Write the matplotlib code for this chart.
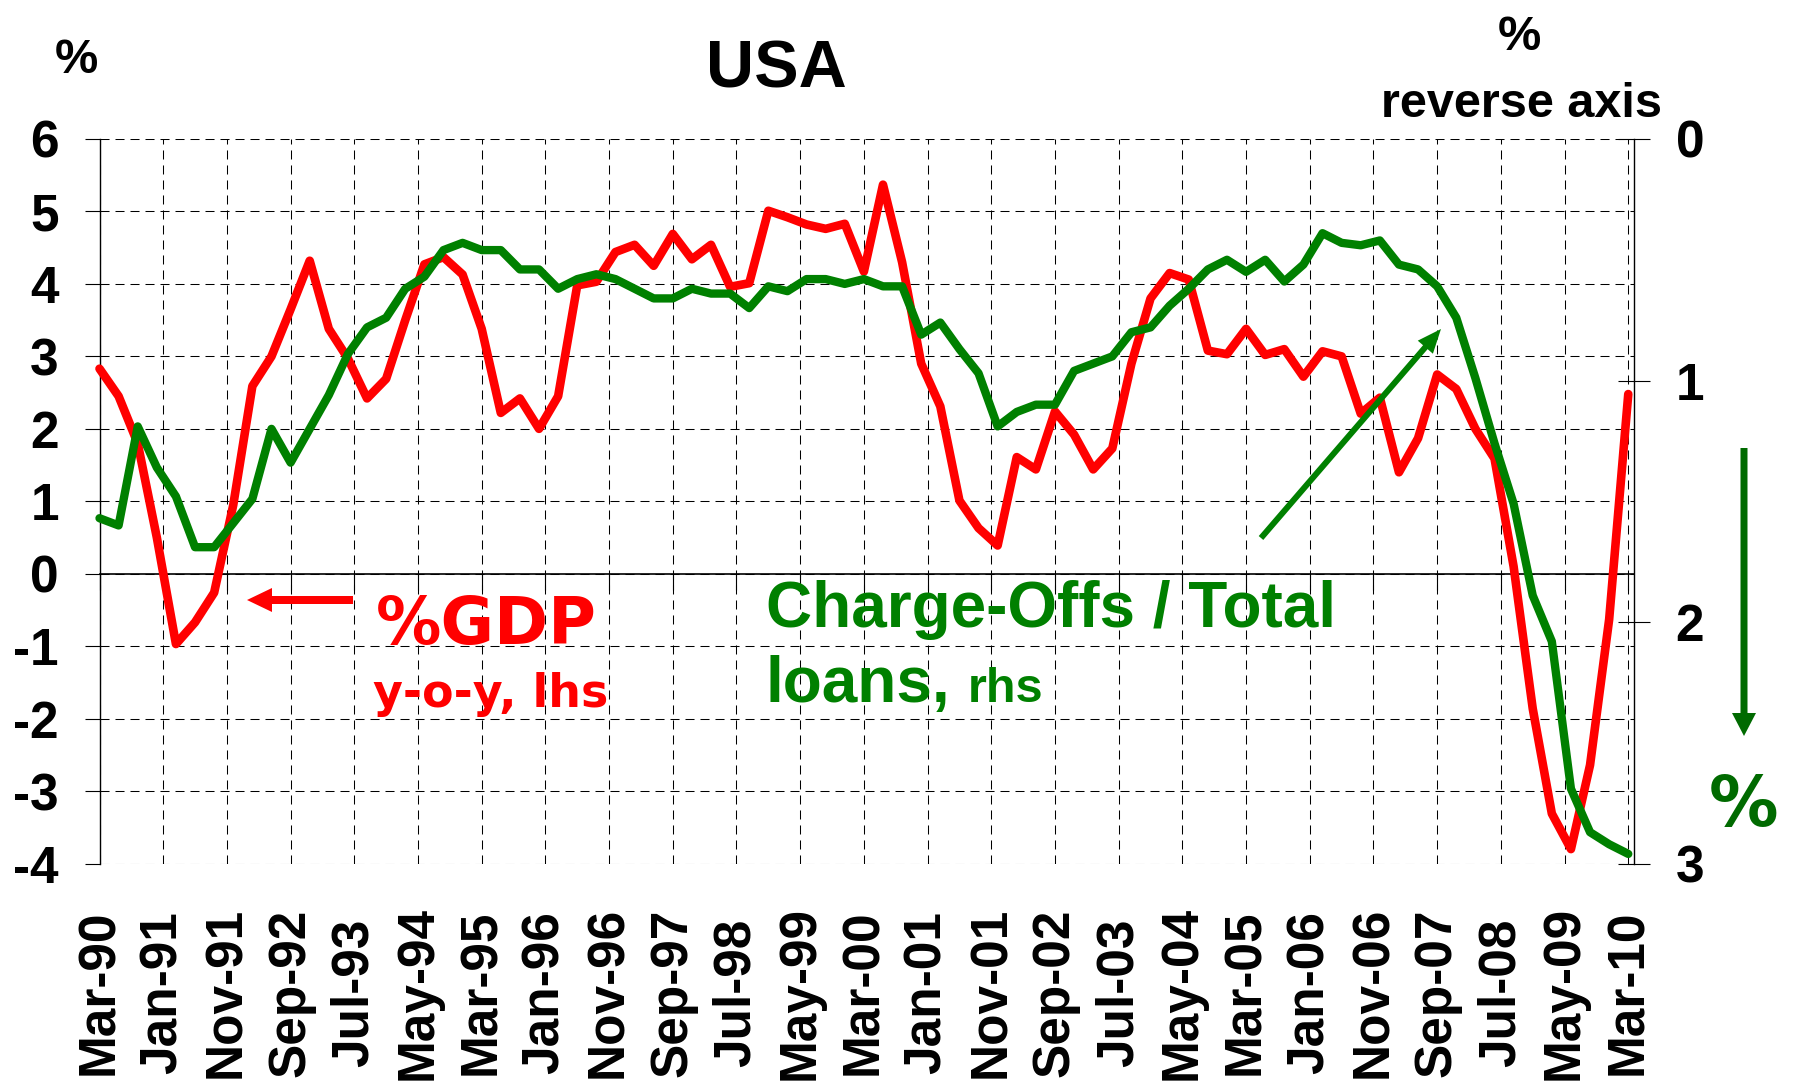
import matplotlib
matplotlib.use("Agg")
import matplotlib.pyplot as plt
import pandas as pd
from matplotlib.patches import FancyArrow
from matplotlib.transforms import IdentityTransform

W, H, DPI = 1795, 1085, 100

RED = "#FF0000"
GREEN = "#008000"
DARK_GREEN = "#006A00"

# quarterly observations, Mar-90 .. Mar-10
quarters = pd.date_range("1990-03-31", "2010-03-31", freq="QE")

# real GDP, % y-o-y (left axis)
gdp_yoy = [
    2.83, 2.45, 1.80, 0.50, -0.97, -0.67, -0.26, 0.95, 2.59, 3.00,
    3.65, 4.32, 3.38, 2.97, 2.42, 2.69, 3.50, 4.27, 4.37, 4.13,
    3.38, 2.22, 2.42, 2.00, 2.45, 3.98, 4.03, 4.44, 4.54, 4.25,
    4.69, 4.34, 4.54, 3.96, 4.01, 5.01, 4.92, 4.82, 4.76, 4.83,
    4.17, 5.37, 4.30, 2.90, 2.31, 1.01, 0.63, 0.39, 1.61, 1.44,
    2.24, 1.92, 1.44, 1.73, 2.90, 3.80, 4.15, 4.06, 3.08, 3.03,
    3.38, 3.02, 3.10, 2.72, 3.07, 3.00, 2.21, 2.43, 1.40, 1.87,
    2.75, 2.55, 2.00, 1.59, 0.10, -1.86, -3.31, -3.80, -2.64, -0.63,
    2.48,
]

# charge-offs / total loans, % (right axis, reversed)
chargeoffs = [
    1.57, 1.60, 1.19, 1.36, 1.48, 1.69, 1.69, 1.59, 1.49, 1.20,
    1.34, 1.20, 1.06, 0.89, 0.78, 0.74, 0.62, 0.57, 0.46, 0.43,
    0.46, 0.46, 0.54, 0.54, 0.62, 0.58, 0.56, 0.58, 0.62, 0.66,
    0.66, 0.62, 0.64, 0.64, 0.70, 0.61, 0.63, 0.58, 0.58, 0.60,
    0.58, 0.61, 0.61, 0.81, 0.76, 0.87, 0.97, 1.19, 1.13, 1.10,
    1.10, 0.96, 0.93, 0.90, 0.80, 0.78, 0.69, 0.62, 0.54, 0.50,
    0.55, 0.50, 0.59, 0.52, 0.39, 0.43, 0.44, 0.42, 0.52, 0.54,
    0.61, 0.74, 0.99, 1.26, 1.51, 1.89, 2.08, 2.69, 2.87, 2.92,
    2.96,
]

tick_labels = [
    "Mar-90", "Jan-91", "Nov-91", "Sep-92", "Jul-93", "May-94", "Mar-95",
    "Jan-96", "Nov-96", "Sep-97", "Jul-98", "May-99", "Mar-00", "Jan-01",
    "Nov-01", "Sep-02", "Jul-03", "May-04", "Mar-05", "Jan-06", "Nov-06",
    "Sep-07", "Jul-08", "May-09", "Mar-10",
]
lhs_ticks = list(range(-4, 7))
rhs_ticks = [0, 1, 2, 3]


def month_index(dates):
    """Months elapsed since March 1990."""
    dates = pd.DatetimeIndex(dates)
    return (dates.year - 1990) * 12 + dates.month - 3


def fx(px):
    return px / W


def fy(py):
    return 1 - py / H


def arrow(x0, y0, x1, y1, width, head_width, head_length, color):
    """Filled arrow drawn in figure pixels (origin top-left)."""
    fig.add_artist(FancyArrow(
        x0, H - y0, x1 - x0, y0 - y1, width=width, head_width=head_width,
        head_length=head_length, length_includes_head=True, color=color,
        lw=0, transform=IdentityTransform(),
    ))


x = month_index(quarters)
tick_x = month_index(pd.to_datetime(tick_labels, format="%b-%y"))

plt.rcParams["font.family"] = ["Liberation Sans", "DejaVu Sans"]
plt.rcParams["font.weight"] = "bold"
plt.rcParams["lines.scale_dashes"] = False
plt.rcParams["axes.unicode_minus"] = False

fig = plt.figure(figsize=(W / DPI, H / DPI), dpi=DPI)
ax = fig.add_axes([fx(99.5), fy(863.6), fx(1634 - 99.5), (863.6 - 139) / H])

ax.set_xlim(0, 240.9)
ax.set_ylim(-4, 6)
ax.set_yticks(lhs_ticks)
ax.set_xticks(tick_x)
ax.set_xticklabels(tick_labels, rotation=90, va="center")
ax.grid(True, color="black", lw=0.75, linestyle=(0, (6.5, 4.3)))
ax.set_axisbelow(True)
for side in ("top", "bottom", "right"):
    ax.spines[side].set_visible(False)
ax.spines["left"].set_linewidth(1.0)
ax.tick_params(axis="y", direction="out", length=10.8, width=0.8, pad=18.5,
               labelsize=37)
ax.tick_params(axis="x", length=0, pad=92.9, labelsize=37)

# x axis line crossing at zero, ticks below it
zero_axis = ax.secondary_xaxis(0, transform=ax.transData)
zero_axis.set_xticks(tick_x)
zero_axis.tick_params(direction="out", length=11.5, width=0.8,
                      labelbottom=False)
zero_axis.spines["bottom"].set_linewidth(1.2)

ax.plot(x, gdp_yoy, color=RED, lw=6.2, solid_joinstyle="round",
        solid_capstyle="round", clip_on=False, zorder=3)

ax2 = ax.twinx()
ax2.set_ylim(3, 0)
ax2.set_yticks(rhs_ticks)
for side in ("top", "bottom", "left"):
    ax2.spines[side].set_visible(False)
ax2.spines["right"].set_linewidth(1.0)
ax2.tick_params(axis="y", direction="inout", length=23, width=0.8, pad=18.5,
                labelsize=37)
ax2.plot(x, chargeoffs, color=GREEN, lw=6.0, solid_joinstyle="round",
         solid_capstyle="round", clip_on=False, zorder=3)

# titles and axis notes
fig.text(fx(776), fy(88), "USA", ha="center", va="baseline", fontsize=48)
fig.text(fx(76), fy(73), "%", ha="center", va="baseline", fontsize=35)
fig.text(fx(1519), fy(50), "%", ha="center", va="baseline", fontsize=35)
fig.text(fx(1381), fy(117), "reverse axis", ha="left", va="baseline",
         fontsize=35)

# series labels
fig.text(fx(376), fy(644), "%GDP", color=RED, family="DejaVu Sans",
         fontsize=47, va="baseline")
fig.text(fx(373), fy(707), "y-o-y, lhs", color=RED, family="DejaVu Sans",
         fontsize=33, va="baseline")
fig.text(fx(766), fy(627), "Charge-Offs / Total", color=GREEN, fontsize=46,
         va="baseline")
fig.text(fx(766), fy(702), "loans,", color=GREEN, fontsize=46, va="baseline")
fig.text(fx(968), fy(702), "rhs", color=GREEN, fontsize=35, va="baseline")
fig.text(fx(1744), fy(826), "%", color=DARK_GREEN, family="DejaVu Sans",
         fontsize=50, ha="center", va="baseline")

arrow(353, 600, 247, 600, 8, 24, 25, RED)
arrow(1261, 538, 1441, 329, 6, 20, 24, GREEN)
arrow(1744, 448, 1744, 736, 7, 24, 23, DARK_GREEN)

fig.savefig("out.png", dpi=DPI)
